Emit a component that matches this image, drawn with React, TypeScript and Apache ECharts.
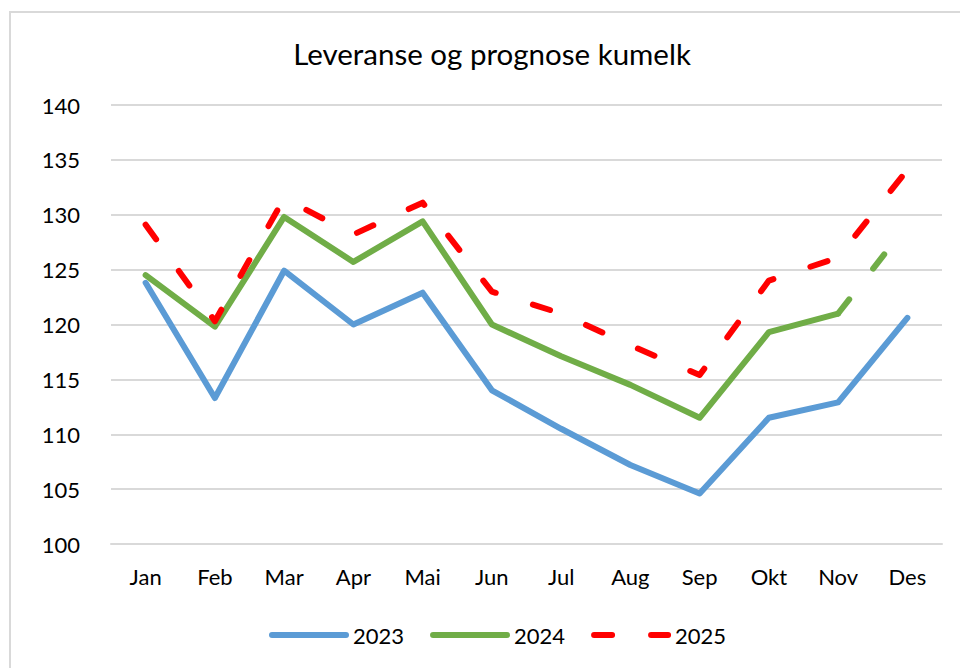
import React, { useEffect, useRef } from "react";
import * as echarts from "echarts";

const months = ["Jan", "Feb", "Mar", "Apr", "Mai", "Jun", "Jul", "Aug", "Sep", "Okt", "Nov", "Des"];
const values2023 = [123.8, 113.3, 124.9, 120.0, 122.9, 114.0, 110.5, 107.2, 104.6, 111.5, 112.9, 120.6];
const values2024 = [124.5, 119.8, 129.8, 125.7, 129.4, 120.0, 117.1, 114.5, 111.5, 119.3, 121.0, 129.1];
const values2025 = [129.1, 120.3, 131.5, 128.2, 131.1, 123.0, 121.0, 118.1, 115.4, 124.0, 126.1, 134.1];
const lastActual2024 = 10; // index of Nov: the 2024 line is dashed after this
const yTicks = { min: 100, max: 140, interval: 5 };

const FONT = "Lato";
const BLUE = "#5B9BD5";
const GREEN = "#70AD47";
const RED = "#FF0000";
const DASH = [18, 39];

export default function App() {
  const ref = useRef<HTMLDivElement>(null);
  useEffect(() => {
    if (!ref.current) return;
    const chart = echarts.init(ref.current, null, { renderer: "svg" });
    const solid2024 = values2024.map((v, i) => (i <= lastActual2024 ? v : "-"));
    const dashed2024 = values2024.map((v, i) => (i >= lastActual2024 ? v : "-"));
    const baseLine = { width: 6, cap: "round", join: "round" };
    chart.setOption({
      animation: false,
      backgroundColor: "#fff",
      title: {
        text: "Leveranse og prognose kumelk",
        left: 487,
        textAlign: "center",
        top: 33,
        textStyle: { fontFamily: FONT, fontSize: 29.5, fontWeight: "normal", color: "#000" },
      },
      graphic: [
        {
          type: "rect",
          shape: { x: 10, y: 12, width: 1000, height: 700 },
          style: { fill: "none", stroke: "#d9d9d9", lineWidth: 2 },
          silent: true,
        },
      ],
      legend: {
        data: ["2023", "2024", "2025"],
        left: 264,
        top: 619,
        itemWidth: 74,
        itemHeight: 14,
        itemGap: 26,
        itemStyle: { opacity: 0 },
        lineStyle: { width: 6, cap: "round" },
        textStyle: { fontFamily: FONT, fontSize: 22, color: "#000", padding: [0, 0, 0, 2] },
      },
      grid: { left: 111, right: 18, top: 105, height: 439 },
      xAxis: {
        type: "category",
        data: months,
        boundaryGap: true,
        axisLine: { show: true, lineStyle: { color: "#d9d9d9", width: 2 } },
        axisTick: { show: false },
        axisLabel: { fontFamily: FONT, fontSize: 22, color: "#000", margin: 21 },
      },
      yAxis: {
        type: "value",
        min: yTicks.min,
        max: yTicks.max,
        interval: yTicks.interval,
        axisLine: { show: false },
        axisTick: { show: false },
        splitLine: { lineStyle: { color: "#d9d9d9", width: 2 } },
        axisLabel: { fontFamily: FONT, fontSize: 22, color: "#000", margin: 31 },
      },
      series: [
        {
          name: "2023",
          type: "line",
          data: values2023,
          symbol: "none",
          color: BLUE,
          lineStyle: { ...baseLine, color: BLUE },
          z: 2,
        },
        {
          name: "2024",
          type: "line",
          data: solid2024,
          symbol: "none",
          color: GREEN,
          lineStyle: { ...baseLine, color: GREEN },
          z: 3,
        },
        {
          name: "2024",
          type: "line",
          data: dashed2024,
          symbol: "none",
          color: GREEN,
          lineStyle: { ...baseLine, color: GREEN, type: DASH },
          z: 3,
        },
        {
          name: "2025",
          type: "line",
          data: values2025,
          symbol: "none",
          color: RED,
          lineStyle: { ...baseLine, color: RED, type: DASH },
          z: 4,
        },
      ],
    });
    return () => chart.dispose();
  }, []);
  return (
    <div
      ref={ref}
      style={{ position: "fixed", left: 0, top: 0, width: 960, height: 668 }}
    />
  );
}
